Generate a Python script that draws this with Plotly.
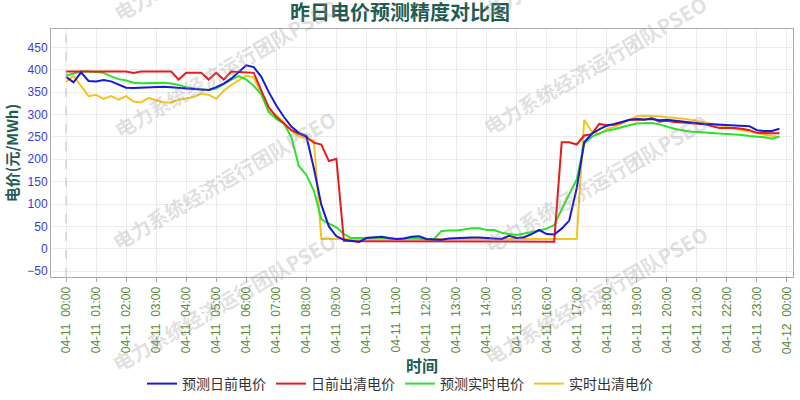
import plotly.graph_objects as go
import pandas as pd

# 15-minute time axis for 2024-04-11
times = pd.date_range("2024-04-11 00:00", periods=96, freq="15min")

pred_da = [384, 372, 394, 375, 374, 377, 374, 367, 360, 359, 360, 360, 361, 362, 361, 359,
           358, 357, 356, 355, 361, 369, 380, 395, 410, 406, 384, 350, 320, 295, 273, 259,
           252, 180, 98, 50, 28, 20, 17, 15, 24, 26, 27, 24, 22, 23, 27, 28,
           22, 21, 20, 23, 24, 25, 25, 25, 24, 24, 22, 29, 24, 26, 33, 42,
           33, 32, 45, 63, 135, 238, 257, 267, 275, 279, 283, 288, 290, 289, 290, 287,
           288, 286, 284, 282, 280, 279, 278, 277, 277, 276, 275, 274, 265, 263, 263, 268]

clear_da = [396, 396, 396, 396, 396, 396, 396, 396, 396, 393, 396, 396, 396, 396, 396, 378,
            393, 393, 393, 378, 393, 378, 396, 395, 394, 393, 354, 316, 295, 279, 265, 257,
            250, 237, 233, 196, 201, 18, 17, 17, 17, 17, 17, 17, 17, 17, 17, 17,
            17, 17, 17, 17, 17, 17, 17, 17, 17, 17, 17, 16, 16, 16, 16, 16,
            16, 16, 238, 238, 233, 253, 256, 279, 276, 277, 282, 288, 288, 288, 292, 284,
            286, 283, 282, 281, 280, 278, 274, 270, 270, 270, 268, 265, 259, 258, 258, 258]

pred_rt = [387, 392, 396, 396, 395, 393, 385, 379, 376, 371, 370, 370, 370, 371, 369, 366,
           361, 358, 356, 355, 358, 368, 378, 386, 378, 364, 345, 305, 290, 280, 250, 185,
           165, 130, 66, 56, 48, 33, 24, 24, 24, 24, 25, 23, 22, 23, 24, 23,
           21, 22, 40, 41, 41, 43, 46, 46, 42, 42, 36, 33, 31, 34, 37, 41,
           45, 53, 88, 120, 155, 235, 250, 258, 264, 267, 272, 276, 280, 281, 281, 278,
           273, 268, 265, 262, 261, 260, 258, 258, 256, 256, 254, 252, 251, 249, 246, 251]

clear_rt = [373, 386, 364, 341, 344, 335, 341, 333, 341, 329, 327, 337, 332, 327, 327, 333,
            336, 339, 346, 344, 335, 353, 366, 376, 387, 383, 345, 309, 298, 283, 265, 251,
            245, 242, 22, 22, 22, 22, 22, 22, 22, 22, 22, 22, 22, 22, 22, 22,
            22, 22, 22, 22, 22, 22, 22, 22, 22, 22, 22, 22, 22, 22, 22, 22,
            22, 22, 22, 22, 22, 288, 262, 256, 268, 272, 280, 288, 296, 297, 297, 296,
            294, 293, 291, 289, 286, 283, 280, 276, 272, 268, 265, 262, 258, 255, 252, 250]

series_names = ["预测日前电价", "日前出清电价", "预测实时电价", "实时出清电价"]
series_values = [pred_da, clear_da, pred_rt, clear_rt]
series_colors = ["#1a1ad0", "#e41c1c", "#2ae22a", "#f6c320"]

y_ticks = [-50, 0, 50, 100, 150, 200, 250, 300, 350, 400, 450]

title_text = "昨日电价预测精度对比图"
y_title = "电价(元/MWh)"
x_title = "时间"
watermark = "电力系统经济运行团队PSEO"

CJK = "Noto Sans CJK SC, Liberation Sans, sans-serif"
LAT = "Liberation Sans, Arial, Noto Sans CJK SC, sans-serif"
TEAL = "#1f5c52"

fig = go.Figure()
# draw order: yellow, green, red, blue (blue on top); legend reversed
for name, vals, col in reversed(list(zip(series_names, series_values, series_colors))):
    fig.add_trace(go.Scatter(x=times, y=vals, name=name, mode="lines",
                             line=dict(color=col, width=2)))

# margins in px
L, R, T, B = 51, 7, 29, 123
W, H = 800, 400
pw, ph = W - L - R, H - T - B


def px2paper(px, py):
    return (px - L) / pw, (H - B - py) / ph


annotations = []
for cx, cy in [(223, 302), (223, 180), (225, 68), (225, -48),
               (595, 295), (595, 183), (594, 65), (594, -50)]:
    xp, yp = px2paper(cx, cy)
    annotations.append(dict(
        text=watermark, x=xp, y=yp, xref="paper", yref="paper",
        showarrow=False, textangle=-30, xanchor="center", yanchor="middle",
        font=dict(family=CJK, size=20, color="rgba(150,150,150,0.30)", weight="bold")))

fig.add_shape(type="line", x0=times[0], x1=times[0], y0=0, y1=1, yref="paper",
              line=dict(color="#c0c0c0", width=1, dash="dash"))

fig.update_layout(
    width=W, height=H,
    margin=dict(l=L, r=R, t=T, b=B, autoexpand=False),
    paper_bgcolor="white", plot_bgcolor="white",
    title=dict(text=title_text, x=0.5, xanchor="center", y=1 - 13 / H, yanchor="middle",
               font=dict(family=CJK, size=20, color=TEAL, weight="bold")),
    xaxis=dict(
        range=["2024-04-10 23:30", "2024-04-12 00:12"],
        tick0="2024-04-11 00:00", dtick=3600000,
        tickformat="%m-%d\u00a0\u00a0%H:%M", tickangle=-90,
        tickfont=dict(family=LAT, size=12, color="#5a8a3c"),
        showgrid=True, gridcolor="#ececec", gridwidth=1,
        showline=True, linecolor="#aaaaaa", linewidth=1, mirror=True,
        ticks="outside", ticklen=4, tickcolor="#aaaaaa",
        zeroline=False, automargin=False,
        title=dict(text=x_title, standoff=0,
                   font=dict(family=CJK, size=16, color=TEAL, weight="bold")),
    ),
    yaxis=dict(
        range=[-63, 491], tickvals=y_ticks,
        tickfont=dict(family=LAT, size=12, color="#3b3bdb"),
        showgrid=True, gridcolor="#ececec", gridwidth=1,
        showline=True, linecolor="#aaaaaa", linewidth=1, mirror=True,
        ticks="", zeroline=False, automargin=False,
        title=dict(text=y_title, standoff=4,
                   font=dict(family=CJK, size=15, color=TEAL, weight="bold")),
    ),
    legend=dict(orientation="h", traceorder="reversed",
                x=(400 - L) / pw, xanchor="center",
                y=(H - B - 384) / ph, yanchor="middle",
                font=dict(family=CJK, size=14, color="#333333"),
                itemwidth=30, bgcolor="rgba(0,0,0,0)"),
    annotations=annotations,
)

fig.write_html("out.html",
               config={"displayModeBar": False},
               post_script="document.body.style.margin='0';document.body.style.overflow='hidden';")
